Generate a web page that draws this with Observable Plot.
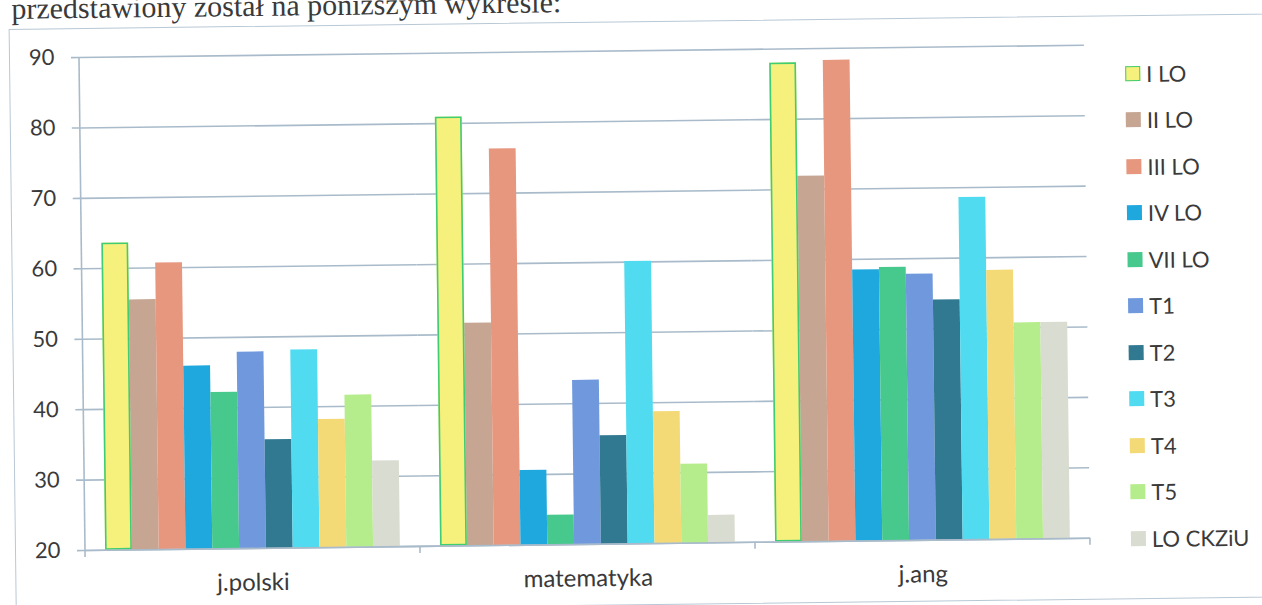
<!DOCTYPE html>
<html><head><meta charset="utf-8">
<script src="https://cdn.jsdelivr.net/npm/d3@7"></script>
<script src="https://cdn.jsdelivr.net/npm/@observablehq/plot@0.6"></script>
<style>
html,body{margin:0;padding:0;background:#fff;width:1262px;height:605px;overflow:hidden;}
#wrap{position:absolute;left:0;top:0;width:1262px;height:605px;transform:rotate(-0.7deg);transform-origin:85px 550px;}
#intro{position:absolute;left:18px;top:-7px;font-family:"Liberation Serif",serif;font-size:30px;line-height:30px;color:#3a3a3a;white-space:nowrap;}
#box{position:absolute;left:15px;top:28px;width:1400px;height:584px;border:1.5px solid #b8c8d5;box-sizing:border-box;}
#chart{position:absolute;left:0;top:0;}
#legend{position:absolute;left:0;top:0;font-family:Lato,sans-serif;font-size:22px;color:#3a3a3a;}
.item{position:absolute;left:1131px;height:26px;display:flex;align-items:center;white-space:nowrap;}
.sw{width:15px;height:15px;margin-right:6px;box-sizing:border-box;}
</style></head>
<body>
<div id="wrap">
  <div id="intro">przedstawiony został na poniższym wykresie:</div>
  <div id="box"></div>
  <div id="chart"></div>
  <div id="legend"></div>
</div>
<script>
const groups = ["j.polski", "matematyka", "j.ang"];
const series = ["I LO", "II LO", "III LO", "IV LO", "VII LO", "T1", "T2", "T3", "T4", "T5", "LO CKZiU"];
const polski = [63.6, 55.5, 60.7, 46.0, 42.2, 47.9, 35.4, 48.1, 38.2, 41.6, 32.2];
const matematyka = [80.9, 51.6, 76.3, 30.6, 24.2, 43.3, 35.4, 60.1, 38.7, 31.2, 23.9];
const angielski = [88.0, 71.9, 88.3, 58.5, 58.8, 57.8, 54.1, 68.6, 58.2, 50.7, 50.7];
const colors = ["#f6f07c", "#c6a692", "#e6977e", "#1ea8dd", "#47c88c", "#7099dd", "#317991", "#50dbf0", "#f4d977", "#b6ed8c", "#d9dcd0"];
const yTicks = [20, 30, 40, 50, 60, 70, 80, 90];

const byGroup = [polski, matematyka, angielski];
const data = groups.flatMap((g, gi) => series.map((s, si) => ({group: g, series: s, value: byGroup[gi][si]})));

const gridColor = "#a9bbca";
const textColor = "#3a3a3a";

const plot = Plot.plot({
  width: 1110,
  height: 605,
  marginLeft: 85,
  marginRight: 20,
  marginTop: 57,
  marginBottom: 55,
  style: {fontFamily: "Lato, sans-serif", background: "transparent", color: textColor},
  fx: {domain: groups, padding: 0, round: false},
  x: {domain: series, paddingInner: 0, paddingOuter: 0.75, round: false, axis: null},
  y: {domain: [yTicks[0], yTicks[yTicks.length - 1]]},
  color: {domain: series, range: colors},
  marks: [
    Plot.gridY(yTicks, {stroke: gridColor, strokeOpacity: 1, strokeWidth: 1.6}),
    Plot.barY(data, {fx: "group", x: "series", y1: yTicks[0], y2: "value", fill: "series"}),
    Plot.barY(data.filter(d => d.series === series[0]), {fx: "group", x: "series", y1: yTicks[0], y2: "value", fill: "none", stroke: "#40cc72", strokeWidth: 1.6, inset: 0.8}),
    Plot.ruleY([yTicks[0]], {stroke: gridColor, strokeWidth: 1.6}),
    Plot.axisY(yTicks, {tickSize: 8, tickPadding: 17, fontSize: 22, stroke: gridColor, strokeWidth: 1.6, fill: textColor, label: null}),
    Plot.axisFx({anchor: "bottom", tickSize: 0, tickPadding: 25, fontSize: 24, fill: textColor, label: null})
  ]
});
document.getElementById("chart").appendChild(plot);

// axis line and category boundary ticks, positioned from Plot's own scales
const fxs = plot.scale("fx"), ys = plot.scale("y");
const bw = fxs.bandwidth;
const g = d3.select(plot).append("g").attr("stroke", gridColor).attr("stroke-width", 1.6);
const x0 = fxs.apply(groups[0]);
g.append("line").attr("x1", x0).attr("x2", x0).attr("y1", ys.apply(yTicks[yTicks.length - 1])).attr("y2", ys.apply(yTicks[0]) + 7);
const bounds = groups.map(d => fxs.apply(d)).concat([fxs.apply(groups[groups.length - 1]) + bw]);
bounds.slice(1).forEach(bx => {
  g.append("line").attr("x1", bx).attr("x2", bx).attr("y1", ys.apply(yTicks[0])).attr("y2", ys.apply(yTicks[0]) + 7);
});

// legend
const legend = document.getElementById("legend");
series.forEach((s, i) => {
  const item = document.createElement("div");
  item.className = "item";
  item.style.top = (86 + i * 46.5 - 13) + "px";
  const sw = document.createElement("div");
  sw.className = "sw";
  sw.style.background = colors[i];
  if (i === 0) sw.style.border = "1.6px solid #40cc72";
  const t = document.createElement("span");
  t.textContent = s;
  item.appendChild(sw);
  item.appendChild(t);
  legend.appendChild(item);
});
</script>
</body></html>
